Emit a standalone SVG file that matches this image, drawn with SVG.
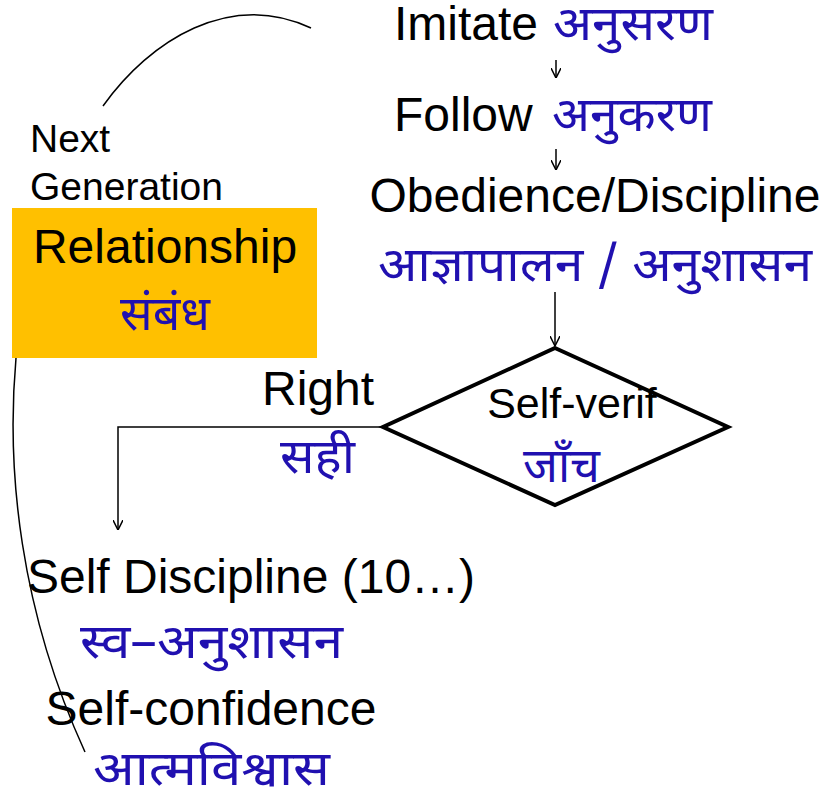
<svg xmlns="http://www.w3.org/2000/svg" width="830" height="797" viewBox="0 0 830 797">
<style>
.en{font-family:"Liberation Sans",Arial,sans-serif;fill:#000;font-size:48px}
.hi{font-family:"Noto Sans Devanagari","Lohit Devanagari","Mangal","Noto Sans",sans-serif;fill:#2010B0;font-size:48px}
.ln{fill:none;stroke:#000;stroke-width:1.5}
</style>
<defs>
<marker id="ah" viewBox="0 0 10 10" refX="10" refY="5" markerWidth="10" markerHeight="10" markerUnits="userSpaceOnUse" orient="auto">
<path d="M0,0 L10,5 L0,10" fill="none" stroke="#000" stroke-width="1.5"/>
</marker>
</defs>
<rect width="830" height="797" fill="#fff"/>
<g id="connectors">
<path class="ln" d="M103,106 C150,40 230,-10 311,28"/>
<path class="ln" d="M16,358 C6,470 20,610 85,752"/>
<line class="ln" x1="556" y1="60" x2="556" y2="78" marker-end="url(#ah)"/>
<line class="ln" x1="556" y1="149" x2="556" y2="170" marker-end="url(#ah)"/>
<line class="ln" x1="555" y1="292" x2="555" y2="346" marker-end="url(#ah)"/>
<path class="ln" d="M383,427 L118,427 L118,530" marker-end="url(#ah)"/>
</g>
<g id="next-generation">
<text class="en" x="30" y="152" style="font-size:39px">Next</text>
<text class="en" x="30" y="200" style="font-size:39px">Generation</text>
</g>
<g id="relationship">
<rect x="12" y="208" width="305" height="150" fill="#FFC000"/>
<text class="en" x="165" y="263" text-anchor="middle">Relationship</text>
<text class="hi" x="120" y="330" textLength="90" lengthAdjust="spacingAndGlyphs">संबंध</text>
</g>
<g id="imitate">
<text class="en" x="394" y="40">Imitate</text>
<text class="hi" x="553" y="40" textLength="160" lengthAdjust="spacingAndGlyphs">अनुसरण</text>
</g>
<g id="follow">
<text class="en" x="394" y="131">Follow</text>
<text class="hi" x="552" y="131" textLength="160" lengthAdjust="spacingAndGlyphs">अनुकरण</text>
</g>
<g id="obedience">
<text class="en" x="595" y="212" text-anchor="middle">Obedience/Discipline</text>
<text class="hi" x="378" y="281" textLength="434" lengthAdjust="spacingAndGlyphs">आज्ञापालन / अनुशासन</text>
</g>
<g id="self-verif">
<polygon points="555,348 728,427 555,505 383,427" fill="#fff" stroke="#000" stroke-width="4" stroke-linejoin="miter"/>
<text class="en" x="572" y="418" text-anchor="middle" style="font-size:43px">Self-verif</text>
<text class="hi" x="523" y="482" textLength="77" lengthAdjust="spacingAndGlyphs">जाँच</text>
</g>
<g id="right">
<text class="en" x="318" y="405" text-anchor="middle">Right</text>
<text class="hi" x="280" y="473" textLength="75" lengthAdjust="spacingAndGlyphs">सही</text>
</g>
<g id="self-discipline">
<text class="en" x="251" y="593" text-anchor="middle">Self Discipline (10…)</text>
<text class="hi" x="80" y="658" textLength="263" lengthAdjust="spacingAndGlyphs">स्व–अनुशासन</text>
</g>
<g id="self-confidence">
<text class="en" x="211" y="725" text-anchor="middle">Self-confidence</text>
<text class="hi" x="93" y="785" textLength="237" lengthAdjust="spacingAndGlyphs">आत्मविश्वास</text>
</g>
</svg>
